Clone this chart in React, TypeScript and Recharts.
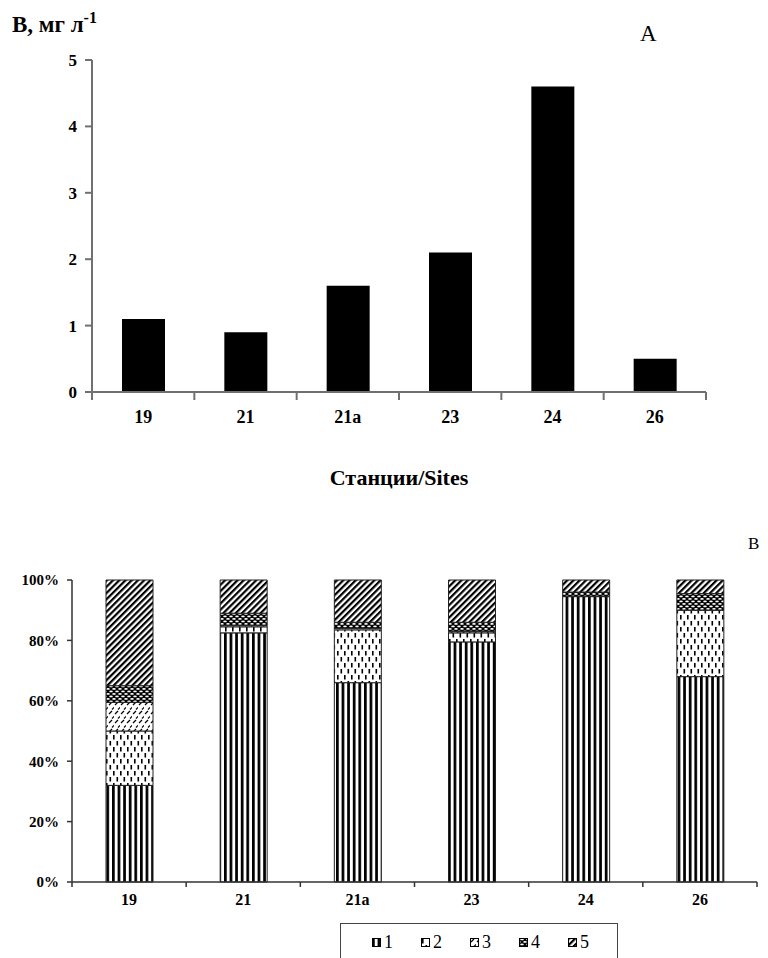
import React from 'react';
import { BarChart, Bar, XAxis, YAxis, Legend } from 'recharts';

const sites = ['19', '21', '21a', '23', '24', '26'];
const boron = [1.1, 0.9, 1.6, 2.1, 4.6, 0.5];
const g1 = [32, 82.5, 66, 79.5, 94.5, 68];
const g2 = [18, 2, 17.5, 3, 0, 22];
const g3 = [9.5, 0.5, 0.5, 0.5, 0, 0];
const g4 = [5.5, 4, 2, 3, 1.5, 5.5];
const g5 = [35, 11, 14, 14, 4, 4.5];
const topTicks = [0, 1, 2, 3, 4, 5];
const pctTicks = [0, 20, 40, 60, 80, 100];
const groups = ['1', '2', '3', '4', '5'];

const topData = sites.map((s, i) => ({ site: s, b: boron[i] }));
const botData = sites.map((s, i) => ({ site: s, s1: g1[i], s2: g2[i], s3: g3[i], s4: g4[i], s5: g5[i] }));

const FONT = 'Liberation Serif, serif';

const BoundTick = (props: any) => {
  const { x, y, payload, index, len, fontSize, dy, stroke, sw } = props;
  const half = payload && payload.offset != null ? payload.offset : 0;
  const last = index === sites.length - 1;
  return (
    <g>
      <line x1={x - half} x2={x - half} y1={y} y2={y + len} stroke={stroke} strokeWidth={sw} />
      {last && <line x1={x + half} x2={x + half} y1={y} y2={y + len} stroke={stroke} strokeWidth={sw} />}
      <text x={x} y={y + dy} textAnchor="middle" style={{ fontFamily: FONT, fontWeight: 'bold', fontSize }} fill="#000">
        {payload.value}
      </text>
    </g>
  );
};

const Patterns = () => (
  <svg width={0} height={0} style={{ position: 'absolute' }}>
    <defs>
      <pattern id="p1" patternUnits="userSpaceOnUse" width={5.6} height={10}>
        <rect width={5.6} height={10} fill="#fff" />
        <rect x={0} width={2.7} height={10} fill="#000" />
      </pattern>
      <pattern id="p2" patternUnits="userSpaceOnUse" width={7} height={12}>
        <rect width={7} height={12} fill="#fff" />
        <rect x={1} y={1} width={1.6} height={4.5} fill="#000" />
        <rect x={4.5} y={7} width={1.6} height={4.5} fill="#000" />
      </pattern>
      <pattern id="p3" patternUnits="userSpaceOnUse" width={6} height={9}>
        <rect width={6} height={9} fill="#fff" />
        <line x1={1} y1={4} x2={4} y2={1} stroke="#000" strokeWidth={1.2} />
        <line x1={4} y1={8.5} x2={7} y2={5.5} stroke="#000" strokeWidth={1.2} />
      </pattern>
      <pattern id="p4" patternUnits="userSpaceOnUse" width={6} height={5}>
        <rect width={6} height={5} fill="#000" />
        <ellipse cx={3} cy={1.4} rx={1.8} ry={0.9} fill="#fff" />
        <ellipse cx={0} cy={3.9} rx={1.8} ry={0.9} fill="#fff" />
        <ellipse cx={6} cy={3.9} rx={1.8} ry={0.9} fill="#fff" />
      </pattern>
      <pattern id="p5" patternUnits="userSpaceOnUse" width={4.4} height={4.4} patternTransform="rotate(45)">
        <rect width={4.4} height={4.4} fill="#fff" />
        <rect width={2.2} height={4.4} fill="#000" />
      </pattern>
    </defs>
  </svg>
);

const LegendBox = () => (
  <div
    style={{
      width: 278,
      height: 42,
      boxSizing: 'border-box',
      border: '1.5px solid #444',
      display: 'flex',
      alignItems: 'center',
      paddingLeft: 31,
      paddingBottom: 4,
      fontFamily: FONT,
      fontSize: 18,
      color: '#000',
    }}
  >
    {groups.map((g) => (
      <div key={g} style={{ width: 50, display: 'flex', alignItems: 'center' }}>
        <svg width={9} height={9} style={{ marginRight: 3 }}>
          <rect x={0.5} y={0.5} width={8} height={8} fill={`url(#p${g})`} stroke="#000" strokeWidth={1} />
        </svg>
        <span>{g}</span>
      </div>
    ))}
  </div>
);

export default function App() {
  return (
    <div style={{ position: 'absolute', left: 0, top: 0, width: 768, height: 958, overflow: 'hidden', background: '#fff' }}>
      <Patterns />
      <div style={{ position: 'absolute', left: 12, top: 12, fontFamily: FONT, fontWeight: 'bold', fontSize: 23, lineHeight: '26px', color: '#000' }}>
        B, мг л<span style={{ fontSize: 16, position: 'relative', top: -9 }}>-1</span>
      </div>
      <div style={{ position: 'absolute', left: 640, top: 21, fontFamily: FONT, fontSize: 23, lineHeight: '26px', color: '#000' }}>A</div>
      <div style={{ position: 'absolute', left: 748, top: 534, fontFamily: FONT, fontSize: 17, lineHeight: '20px', color: '#000' }}>B</div>

      <div style={{ position: 'absolute', left: 0, top: 0 }}>
        <BarChart width={768} height={500} data={topData} margin={{ top: 60, right: 62, bottom: 0, left: 0 }} barSize={43}>
          <XAxis
            dataKey="site"
            interval={0}
            height={108}
            tickSize={0}
            tickMargin={0}
            axisLine={{ stroke: '#707070', strokeWidth: 2 }}
            tickLine={false}
            tick={(p: any) => <BoundTick {...p} len={8} fontSize={18} dy={31} stroke="#707070" sw={2} />}
            label={{ value: 'Станции/Sites', position: 'insideBottom', offset: 15, style: { fontFamily: FONT, fontWeight: 'bold', fontSize: 22 }, fill: '#000' }}
          />
          <YAxis
            width={92}
            domain={[0, 5]}
            ticks={topTicks}
            interval={0}
            tickSize={7}
            tickMargin={8}
            axisLine={{ stroke: '#707070', strokeWidth: 2 }}
            tickLine={{ stroke: '#707070', strokeWidth: 2 }}
            tick={{ style: { fontFamily: FONT, fontWeight: 'bold', fontSize: 17 }, fill: '#000' }}
          />
          <Bar dataKey="b" fill="#000" isAnimationActive={false} />
        </BarChart>
      </div>

      <div style={{ position: 'absolute', left: 0, top: 530 }}>
        <BarChart width={768} height={428} data={botData} margin={{ top: 50, right: 11, bottom: 0, left: 0 }} barSize={47}>
          <XAxis
            dataKey="site"
            interval={0}
            height={76}
            tickSize={0}
            tickMargin={0}
            axisLine={{ stroke: '#333', strokeWidth: 1.5 }}
            tickLine={false}
            tick={(p: any) => <BoundTick {...p} len={5} fontSize={16} dy={23} stroke="#333" sw={1.5} />}
          />
          <YAxis
            width={72}
            domain={[0, 100]}
            ticks={pctTicks}
            interval={0}
            tickSize={5}
            tickMargin={8}
            tickFormatter={(v: number) => `${v}%`}
            axisLine={{ stroke: '#333', strokeWidth: 1.5 }}
            tickLine={{ stroke: '#333', strokeWidth: 1.5 }}
            tick={{ style: { fontFamily: FONT, fontWeight: 'bold', fontSize: 15 }, fill: '#000' }}
          />
          <Legend
            layout="horizontal"
            verticalAlign="middle"
            align="center"
            wrapperStyle={{ position: 'absolute', left: 340, top: 393, width: 278 }}
            content={() => <LegendBox />}
          />
          <Bar dataKey="s1" stackId="a" fill="url(#p1)" stroke="#222" strokeWidth={1} isAnimationActive={false} />
          <Bar dataKey="s2" stackId="a" fill="url(#p2)" stroke="#222" strokeWidth={1} isAnimationActive={false} />
          <Bar dataKey="s3" stackId="a" fill="url(#p3)" stroke="#222" strokeWidth={1} isAnimationActive={false} />
          <Bar dataKey="s4" stackId="a" fill="url(#p4)" stroke="#222" strokeWidth={1} isAnimationActive={false} />
          <Bar dataKey="s5" stackId="a" fill="url(#p5)" stroke="#222" strokeWidth={1} isAnimationActive={false} />
        </BarChart>
      </div>
    </div>
  );
}
